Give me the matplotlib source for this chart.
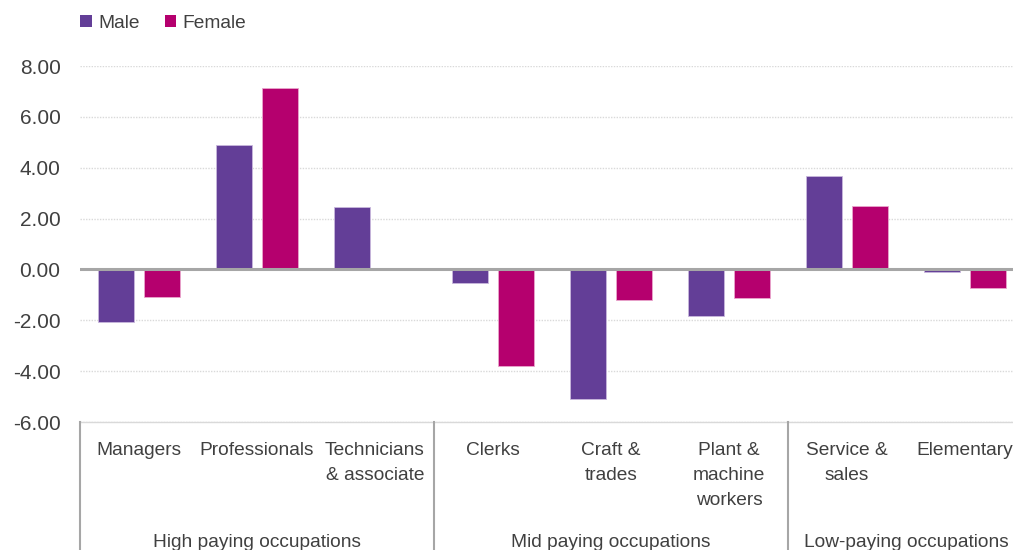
import numpy as np
import matplotlib
matplotlib.use('Agg')
import matplotlib.pyplot as plt
from matplotlib.patches import Patch

# data
occupations = ['Managers', 'Professionals', 'Technicians\n& associate',
               'Clerks', 'Craft &\ntrades', 'Plant &\nmachine\nworkers',
               'Service &\nsales', 'Elementary']
male = [-2.05, 4.89, 2.46, -0.54, -5.08, -1.82, 3.68, -0.09]
female = [-1.07, 7.15, 0.0, -3.78, -1.20, -1.12, 2.51, -0.72]
groups = ['High paying occupations', 'Mid paying occupations', 'Low-paying occupations']
group_sizes = [3, 3, 2]
yticks = [-6, -4, -2, 0, 2, 4, 6, 8]

male_color = '#633E97'
female_color = '#B5006E'
text_color = '#404040'
line_color = '#A6A6A6'

plt.rcParams['font.family'] = ['Liberation Sans', 'DejaVu Sans']

W, H = 1013, 550
fig = plt.figure(figsize=(W / 100, H / 100), dpi=100)
ax_l, ax_b, ax_t = 80, 422, 66
ax = fig.add_axes([ax_l / W, (H - ax_b) / H, 1 - ax_l / W, (ax_b - ax_t) / H])

x = np.arange(len(occupations))
bw = 0.305
off = 0.195
ax.bar(x - off, male, bw, color=male_color, edgecolor='#C9B8DD', linewidth=0.6, label='Male', zorder=3)
ax.bar(x + off, female, bw, color=female_color, edgecolor='#E9A6CC', linewidth=0.6, label='Female', zorder=3)

ax.set_ylim(-6, 8)
# category width 118 px, image crops the last one a little
ax.set_xlim(-0.5, -0.5 + (W - ax_l) / 118)
ax.set_yticks(yticks)
ax.set_yticklabels(['%.2f' % v for v in yticks])
ax.yaxis.grid(True, color='#D9D9D9', linestyle=(0, (1, 1)), linewidth=1, zorder=0)
ax.axhline(0, color=line_color, linewidth=2.2, zorder=4)
ax.axhline(-6, color='#D9D9D9', linewidth=1, zorder=1, clip_on=False)
ax.tick_params(axis='y', length=0, pad=14, labelsize=15, labelcolor=text_color)
ax.tick_params(axis='x', length=0, labelbottom=False)
for s in ax.spines.values():
    s.set_visible(False)

trans = ax.get_xaxis_transform()
ah = ax_b - ax_t
for i, lab in enumerate(occupations):
    ax.text(i, -(442 - ax_b) / ah, lab, transform=trans, ha='center', va='top',
            fontsize=13.8, color=text_color, linespacing=1.62, clip_on=False)

# group separators and labels
start = 0
for g, n in zip(groups, group_sizes):
    ax.plot([start - 0.5, start - 0.5], [0, -(H - ax_b + 5) / ah], transform=trans,
            color=line_color, linewidth=1.5, clip_on=False)
    ax.text(start + (n - 1) / 2, -(547 - ax_b) / ah, g, transform=trans, ha='center',
            va='baseline', fontsize=13.8, color=text_color, clip_on=False)
    start += n

handles = [Patch(facecolor=male_color, label='Male'), Patch(facecolor=female_color, label='Female')]
fig.legend(handles=handles, loc='upper left', bbox_to_anchor=(80 / W, 1 - 15 / H), ncol=2,
           frameon=False, handlelength=0.6, handleheight=0.6, handletextpad=0.35,
           columnspacing=1.3, borderpad=0, borderaxespad=0, fontsize=13.8, labelcolor=text_color)

fig.savefig('out.png', dpi=100)
